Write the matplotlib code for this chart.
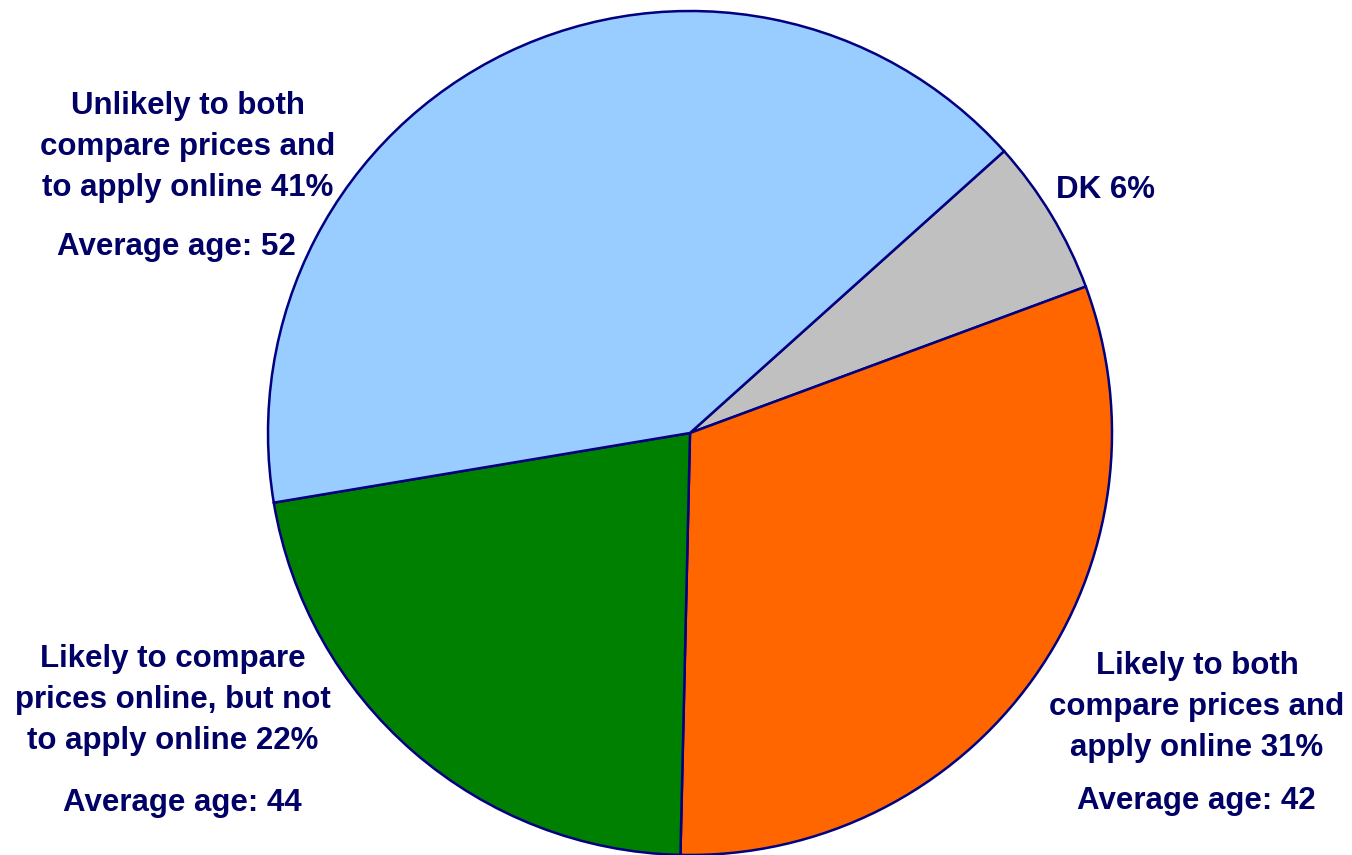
import matplotlib.pyplot as plt

plt.rcParams['font.family'] = ['Liberation Sans', 'DejaVu Sans']

# slices, clockwise starting from the DK wedge
labels = ["DK 6%",
          "Likely to both\ncompare prices and\napply online 31%",
          "Likely to compare\nprices online, but not\nto apply online 22%",
          "Unlikely to both\ncompare prices and\nto apply online 41%"]
shares = [6, 31, 22, 41]
ages = [None, "Average age: 42", "Average age: 44", "Average age: 52"]
colors = ["#C0C0C0", "#FF6600", "#008000", "#99CCFF"]

navy = "#000080"
txt = "#000066"

fig = plt.figure(figsize=(13.52, 8.55), dpi=100)
ax = fig.add_axes([0, 0, 1, 1])

ax.pie(shares, colors=colors, startangle=41.9, counterclock=False,
       center=(690, 422), radius=422, frame=True,
       wedgeprops=dict(edgecolor=navy, linewidth=1.8))
ax.set_xlim(0, 1352)
ax.set_ylim(0, 855)
ax.set_aspect('equal')
ax.axis('off')

# label positions (pixels from bottom-left)
lab_pos = [(1105, 665), (1197, 148), (173, 155), (188, 708)]
age_pos = [None, (1196, 54), (182, 52), (176, 608)]

for lab, (x, y) in zip(labels, lab_pos):
    ax.text(x, y, lab, ha='center', va='center', fontsize=22.5,
            fontweight='bold', color=txt, linespacing=1.47)
for age, p in zip(ages, age_pos):
    if age is None:
        continue
    ax.text(p[0], p[1], age, ha='center', va='center', fontsize=22.5,
            fontweight='bold', color=txt)

fig.savefig("out.png", dpi=100)
